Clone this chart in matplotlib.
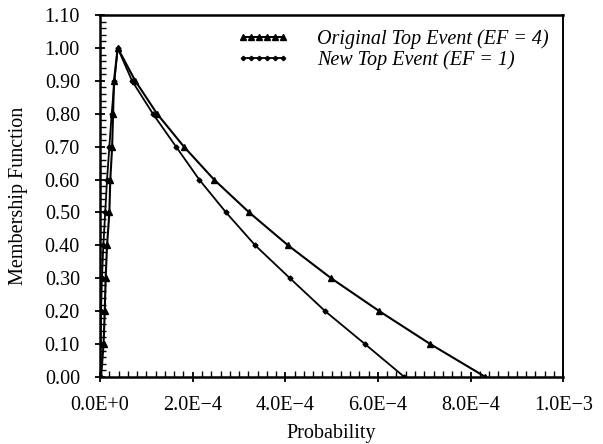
import numpy as np
import matplotlib.pyplot as plt
from matplotlib.ticker import MultipleLocator

plt.rcParams['font.family'] = ['Liberation Serif', 'DejaVu Serif']

# membership levels (left side rising, right side falling)
alpha = [0.0, 0.1, 0.2, 0.3, 0.4, 0.5, 0.6, 0.7, 0.8, 0.9, 1.0]

# Original top event (EF = 4)
orig_left = [2e-6, 7.5e-6, 1.0e-5, 1.2e-5, 1.5e-5, 2.0e-5, 2.2e-5, 2.6e-5, 2.8e-5, 3.0e-5, 3.8e-5]
orig_right = [8.32e-4, 7.13e-4, 6.03e-4, 4.99e-4, 4.06e-4, 3.22e-4, 2.46e-4, 1.81e-4, 1.23e-4, 7.6e-5, 3.8e-5]

# New top event (EF = 1)
new_left = [0.0, 1e-6, 2e-6, 4e-6, 7e-6, 1.1e-5, 1.5e-5, 2.0e-5, 2.5e-5, 3.1e-5, 3.8e-5]
new_right = [6.57e-4, 5.72e-4, 4.86e-4, 4.10e-4, 3.35e-4, 2.72e-4, 2.14e-4, 1.64e-4, 1.14e-4, 6.9e-5, 3.8e-5]

xticks = [0, 2e-4, 4e-4, 6e-4, 8e-4, 1e-3]
xtick_labels = ['0.0E+0', '2.0E\u22124', '4.0E\u22124', '6.0E\u22124', '8.0E\u22124', '1.0E\u22123']
yticks = np.round(np.arange(0, 1.11, 0.1), 2)

# 곡선 좌표 만들기 (왼쪽 + 오른쪽 뒤집어서)
x_orig = orig_left + orig_right[::-1][1:]
y_orig = alpha + alpha[::-1][1:]
x_new = new_left + new_right[::-1][1:]
y_new = alpha + alpha[::-1][1:]

fig = plt.figure(figsize=(6.03, 4.44), dpi=100)
ax = fig.add_axes([0.166, 0.151, 0.768, 0.815])

ax.plot(x_orig, y_orig, color='black', lw=1.5, marker='^', ms=5,
        label='Original Top Event (EF = 4)')
ax.plot(x_new, y_new, color='black', lw=1.3, marker='D', ms=2.5,
        label='New Top Event (EF = 1)')

ax.set_xlim(0, 1e-3)
ax.set_ylim(0, 1.1)
ax.set_xticks(xticks)
ax.set_xticklabels(xtick_labels)
ax.set_yticks(yticks)
ax.set_yticklabels([f'{v:.2f}' for v in yticks])
ax.xaxis.set_minor_locator(MultipleLocator(2e-5))
ax.yaxis.set_minor_locator(MultipleLocator(0.02))

ax.tick_params(axis='both', which='major', direction='inout', length=7, width=1.3,
               labelsize=14.5)
ax.tick_params(axis='y', which='major', pad=11)
ax.tick_params(axis='x', which='major', pad=10)
ax.tick_params(axis='both', which='minor', direction='in', length=4, width=1)
ax.tick_params(axis='y', right=False)
ax.tick_params(axis='x', top=False)

for side in ['left', 'bottom', 'top']:
    ax.spines[side].set_linewidth(1.8)
ax.spines['right'].set_linewidth(1.4)

ax.set_xlabel('Probability', fontsize=14.5, labelpad=6.5)
ax.set_ylabel('Membership Function', fontsize=14.5, labelpad=12)

ax.legend(loc='upper right', frameon=False, numpoints=6, handlelength=2.6,
          markerscale=0.9, prop={'style': 'italic', 'size': 14.5},
          borderaxespad=0.3, labelspacing=0.05, handletextpad=1.4)

plt.savefig('out.png', dpi=100)
